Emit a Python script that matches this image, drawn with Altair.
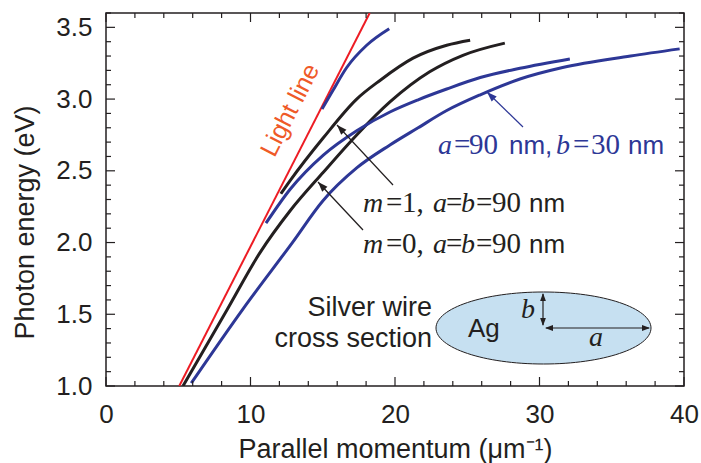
import math
import altair as alt
import pandas as pd

# ---------------- data ----------------
light_k = [5.07, 18.25]
light_E = [1.00, 3.60]

m0_k = [5.33, 8.37, 10.66, 12.73, 15.04, 17.35, 19.65, 22.4, 24.7, 27.6]
m0_E = [1.00, 1.53, 1.93, 2.22, 2.49, 2.75, 2.98, 3.19, 3.305, 3.39]

m1_k = [12.1, 12.73, 15.04, 17.35, 18.96, 21.25, 23.58, 25.2]
m1_E = [2.34, 2.43, 2.73, 3.00, 3.13, 3.285, 3.375, 3.41]

ell_top_k = [14.95, 15.7, 16.66, 18.04, 19.6]
ell_top_E = [2.93, 3.06, 3.22, 3.375, 3.49]

ell_mid_k = [11.07, 12.73, 15.04, 17.35, 19.65, 21.6, 23.58, 25.9, 28.65, 32.1]
ell_mid_E = [2.135, 2.37, 2.61, 2.78, 2.91, 2.995, 3.07, 3.15, 3.215, 3.28]

ell_low_k = [5.9, 9.5, 12.9, 15.0, 17.35, 19.65, 21.6, 23.58, 25.9, 28.65, 31.6, 36.3, 39.7]
ell_low_E = [1.02, 1.54, 2.00, 2.29, 2.52, 2.68, 2.80, 2.92, 3.03, 3.14, 3.22, 3.30, 3.35]

x_major = [0, 10, 20, 30, 40]
x_minor = [v for v in range(0, 41, 2) if v % 10 != 0]
y_major = [1.0, 1.5, 2.0, 2.5, 3.0, 3.5]
y_minor = [round(1.0 + 0.1 * i, 1) for i in range(27) if i % 5 != 0]

# ---------------- geometry / styles ----------------
W, H = 578, 373
LEFT, TOP = 106, 13
XMIN, XMAX, YMIN, YMAX = 0.0, 40.0, 1.0, 3.6
MINOR_LEN, MAJOR_LEN = 5, 9

DARK = "#231f20"
RED = "#ed1c24"
BLUE = "#2d3796"
ORANGE = "#ef5a28"
FILL = "#c6e0f1"
SANS = "Liberation Sans"
SERIF = "Liberation Serif"

DX = (XMAX - XMIN) / W   # data units per pixel
DY = (YMAX - YMIN) / H


def px2x(px):
    return XMIN + (px - LEFT) * DX


def py2y(py):
    return YMIN + (TOP + H - py) * DY


XS = alt.Scale(domain=[XMIN, XMAX], nice=False, zero=False)
YS = alt.Scale(domain=[YMIN, YMAX], nice=False, zero=False)


def curve_df(pairs):
    rows = []
    for name, ks, es in pairs:
        for i, (k, e) in enumerate(zip(ks, es)):
            rows.append({"s": name, "k": k, "E": e, "i": i})
    return pd.DataFrame(rows)


df_curves = curve_df([("light", light_k, light_E), ("m0", m0_k, m0_E), ("m1", m1_k, m1_E),
                      ("top", ell_top_k, ell_top_E), ("mid", ell_mid_k, ell_mid_E),
                      ("low", ell_low_k, ell_low_E)])

# ---------------- axes (labels + titles) ----------------
ax_x = alt.Axis(values=x_major, orient="bottom", ticks=False, tickSize=0, domain=False,
                grid=False, labelFont=SANS, labelFontSize=26, labelColor=DARK,
                labelPadding=15, labelFlush=False, labelOverlap=False, format="d",
                title="Parallel momentum (μm⁻¹)", titleFont=SANS, titleFontSize=27,
                titleFontWeight="normal", titleColor=DARK, titleX=289, titleY=71,
                titleBaseline="alphabetic", titleAlign="center")
ax_y = alt.Axis(values=y_major, orient="left", ticks=False, tickSize=0, domain=False,
                grid=False, labelFont=SANS, labelFontSize=26, labelColor=DARK,
                labelPadding=14, labelFlush=False, labelOverlap=False, format=".1f",
                title="Photon energy (eV)", titleFont=SANS, titleFontSize=27,
                titleFontWeight="normal", titleColor=DARK, titleX=-81, titleY=209,
                titleAngle=270, titleBaseline="middle", titleAlign="center")


def X(field="k", axis=alt.Undefined):
    return alt.X(f"{field}:Q", scale=XS, axis=axis)


def Y(field="E", axis=alt.Undefined):
    return alt.Y(f"{field}:Q", scale=YS, axis=axis)


# ---------------- curves ----------------
l_light = alt.Chart(df_curves).transform_filter(alt.datum.s == "light").mark_line(
    color=RED, strokeWidth=2, clip=True).encode(x=X(axis=ax_x), y=Y(axis=ax_y), order="i:Q")
l_black = alt.Chart(df_curves).transform_filter(
    alt.FieldOneOfPredicate(field="s", oneOf=["m0", "m1"])).mark_line(
    color=DARK, strokeWidth=3, interpolate="monotone", clip=True).encode(
    x=X(), y=Y(), detail="s:N", order="i:Q")
l_blue = alt.Chart(df_curves).transform_filter(
    alt.FieldOneOfPredicate(field="s", oneOf=["top", "mid", "low"])).mark_line(
    color=BLUE, strokeWidth=3, interpolate="monotone", clip=True).encode(
    x=X(), y=Y(), detail="s:N", order="i:Q")

# ---------------- inward ticks on all four sides (short rules) ----------------
tick_rows = []
for vals, ln in ((x_minor, MINOR_LEN), (x_major, MAJOR_LEN)):
    for v in vals:
        tick_rows.append({"x": v, "y": YMIN, "x2": v, "y2": YMIN + ln * DY})
        tick_rows.append({"x": v, "y": YMAX, "x2": v, "y2": YMAX - ln * DY})
for vals, ln in ((y_minor, MINOR_LEN), (y_major, MAJOR_LEN)):
    for v in vals:
        tick_rows.append({"x": XMIN, "y": v, "x2": XMIN + ln * DX, "y2": v})
        tick_rows.append({"x": XMAX, "y": v, "x2": XMAX - ln * DX, "y2": v})
df_ticks = pd.DataFrame(tick_rows)
df_ticks["grp"] = [i // 8 for i in range(len(df_ticks))]
# the ticks are drawn in small groups, one layer per group
tick_layers = [
    alt.Chart(df_ticks[df_ticks["grp"] == g].drop(columns="grp").reset_index(drop=True))
    .mark_rule(color=DARK, strokeWidth=1.2)
    .encode(x=X("x"), y=Y("y"), x2="x2:Q", y2="y2:Q")
    for g in sorted(df_ticks["grp"].unique())
]

# ---------------- ellipse (cross section sketch) ----------------
ELL = "M-1,0 A1,0.335 0 1,0 1,0 A1,0.335 0 1,0 -1,0 Z"
df_ell = pd.DataFrame([{"x": px2x(543.5), "y": py2y(328)}])
ellipse = alt.Chart(df_ell).mark_point(shape=ELL, size=215 ** 2, fill=FILL, stroke=DARK,
                                       strokeWidth=1, opacity=1, fillOpacity=1, filled=False).encode(
    x=X("x"), y=Y("y"))

# ---------------- arrows (annotation geometry in pixels) ----------------
arrow_lines = [  # (x1, y1, x2, y2, colour)
    (523, 127, 487, 92, BLUE),
    (393, 185, 337, 125, DARK),
    (363, 230, 318, 182, DARK),
    (543, 294, 543, 325, DARK),
    (546, 328, 649, 328, DARK),
]
arrow_heads = [  # (tip x, tip y, from x, from y, colour, length)
    (487, 92, 523, 127, BLUE, 10),
    (337, 125, 393, 185, DARK, 10),
    (318, 182, 363, 230, DARK, 10),
    (543, 293, 543, 326, DARK, 8),
    (543, 326, 543, 293, DARK, 8),
    (545, 328, 650, 328, DARK, 8),
    (650, 328, 545, 328, DARK, 8),
]
df_rules = pd.DataFrame([{"x": px2x(a), "y": py2y(b), "x2": px2x(c), "y2": py2y(d), "col": col}
                         for a, b, c, d, col in arrow_lines])
head_rows = []
for tx, ty, fx, fy, col, ln in arrow_heads:
    ang = math.degrees(math.atan2(tx - fx, -(ty - fy))) % 360
    head_rows.append({"x": px2x(tx), "y": py2y(ty), "ang": ang, "col": col, "sz": (2 * ln) ** 2})
df_heads = pd.DataFrame(head_rows)

rules = alt.Chart(df_rules).mark_rule(strokeWidth=1.2).encode(
    x=X("x"), y=Y("y"), x2="x2:Q", y2="y2:Q", color=alt.Color("col:N", scale=None))
ARROW = "M0,0 L0.36,1 L-0.36,1 Z"
heads = alt.Chart(df_heads).mark_point(shape=ARROW, filled=True, opacity=1, strokeWidth=0).encode(
    x=X("x"), y=Y("y"), angle=alt.Angle("ang:Q", scale=None),
    color=alt.Color("col:N", scale=None), size=alt.Size("sz:Q", scale=None))

# ---------------- text pieces (pixel positions of labels) ----------------
sans_left = [("Ag", 468, 337, DARK), ("nm", 529, 212, DARK), ("nm", 529, 253, DARK),
             ("nm,", 509, 154, BLUE), ("nm", 628, 154, BLUE)]
serif_reg = [("=", 386, 212, DARK), ("1,", 402, 212, DARK), ("=", 446, 212, DARK),
             ("=", 476, 212, DARK), ("90", 492, 212, DARK),
             ("=", 386, 253, DARK), ("0,", 402, 253, DARK), ("=", 446, 253, DARK),
             ("=", 476, 253, DARK), ("90", 492, 253, DARK),
             ("=", 454, 154, BLUE), ("90", 469, 154, BLUE), ("=", 573, 154, BLUE),
             ("30", 591, 154, BLUE)]
serif_it = [("m", 363, 212, DARK), ("a", 433, 212, DARK), ("b", 461, 212, DARK),
            ("m", 363, 253, DARK), ("a", 433, 253, DARK), ("b", 461, 253, DARK),
            ("a", 438, 154, BLUE), ("b", 556, 154, BLUE),
            ("b", 521, 318, DARK), ("a", 589, 346, DARK)]
sans_right = [("Silver wire", 432, 316, DARK), ("cross section", 432, 347, DARK)]


def text_df(items):
    return pd.DataFrame([{"t": t, "x": px2x(a), "y": py2y(b), "col": c} for t, a, b, c in items])


def text_layer(items, **mk):
    return alt.Chart(text_df(items)).mark_text(baseline="alphabetic", **mk).encode(
        x=X("x"), y=Y("y"), text="t:N", color=alt.Color("col:N", scale=None))


t_sans = text_layer(sans_left, align="left", font=SANS, fontSize=26)
t_serif = text_layer(serif_reg, align="left", font=SERIF, fontSize=29)
t_it = text_layer(serif_it, align="left", font=SERIF, fontSize=28, fontStyle="italic")
t_right = text_layer(sans_right, align="right", font=SANS, fontSize=27)

df_light_lbl = pd.DataFrame([{"t": "Light line", "x": px2x(290), "y": py2y(110)}])
t_light = alt.Chart(df_light_lbl).mark_text(align="center", baseline="middle", font=SANS,
                                            fontSize=25, angle=297, color=ORANGE).encode(
    x=X("x"), y=Y("y"), text="t:N")

chart = alt.layer(
    l_light, l_black, l_blue, *tick_layers, ellipse, rules, heads,
    t_sans, t_serif, t_it, t_right, t_light
).properties(
    width=W, height=H,
    padding={"left": LEFT, "top": TOP, "right": 701 - LEFT - W, "bottom": 463 - TOP - H},
    autosize=alt.AutoSizeParams(type="none"),
    background="white",
).configure_view(stroke=DARK, strokeWidth=1.5)

chart.save("out.html", embed_options={"renderer": "svg", "actions": False})
